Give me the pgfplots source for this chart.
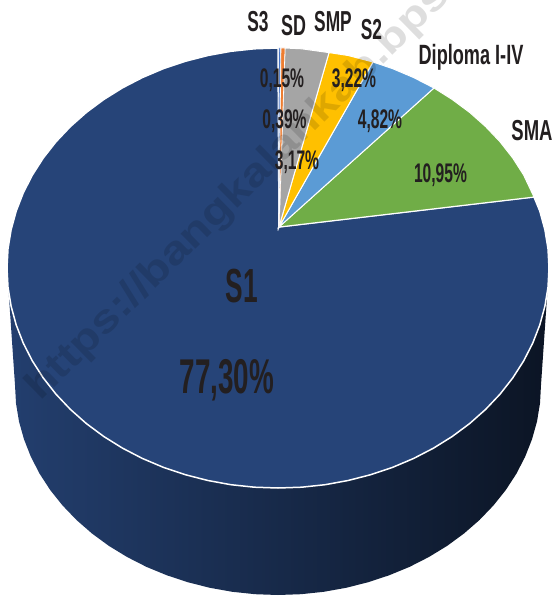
\documentclass[border=0pt]{standalone}
\usepackage{pgfplots}
\pgfplotsset{compat=1.18}
\usepackage{fontspec}
\setmainfont{Liberation Sans}
\definecolor{cSone}{HTML}{264478}
\definecolor{cSthree}{HTML}{4472C4}
\definecolor{cSD}{HTML}{ED7D31}
\definecolor{cSMP}{HTML}{A5A5A5}
\definecolor{cStwo}{HTML}{FFC000}
\definecolor{cDip}{HTML}{5B9BD5}
\definecolor{cSMA}{HTML}{70AD47}
\definecolor{tx}{HTML}{231F20}
\newcommand{\lab}[4]{\node[text=tx,font=\fontsize{#2}{#2}\selectfont\bfseries,inner sep=0pt,anchor=base] at (axis cs:#1) {\scalebox{#3}[1]{#4}};}
\begin{document}
\begin{tikzpicture}
\begin{axis}[scale only axis,width=553bp,height=597bp,xmin=0,xmax=553,ymin=0,ymax=597,y dir=reverse,hide axis,clip=true,no markers]
% side
\addplot[draw=none,left color=cSone!92!black,middle color=cSone!50!black,right color=cSone!30!black] coordinates {
(549,268)(541,385)(540,403.3)(537,421.5)(532,439.3)(525.1,456.8)(516.4,473.7)(505.8,490)(493.4,505.5)(479.5,520)(464,533.5)(447.1,545.9)(428.9,557)(409.5,566.9)(389.1,575.3)(367.9,582.3)(346.1,587.8)(323.7,591.8)(300.9,594.2)(278,595)
(255.1,594.2)(232.3,591.8)(209.9,587.8)(188.1,582.3)(166.9,575.3)(146.5,566.9)(127.1,557)(108.9,545.9)(92,533.5)(76.5,520)(62.6,505.5)(50.2,490)(39.6,473.7)(30.9,456.8)(24,439.3)(19,421.5)(16,403.3)(15,385)(7,268)
} -- cycle;
% S1
\addplot[fill=cSone,draw=white,line width=1.5bp] coordinates {
(279,227)(534,197)(539.8,211.1)(544.9,229.8)(548,248.8)(549,268)(548,287.2)(544.9,306.2)(539.8,324.9)(532.7,343.2)(523.6,361)(512.7,378)(500,394.2)(485.6,409.4)(469.6,423.6)(452.2,436.5)(433.4,448.2)(413.5,458.5)(392.5,467.4)(370.7,474.7)(348.1,480.5)(325.1,484.7)(301.6,487.2)(278,488)
(254.4,487.2)(230.9,484.7)(207.9,480.5)(185.3,474.7)(163.5,467.4)(142.5,458.5)(122.6,448.2)(103.8,436.5)(86.4,423.6)(70.4,409.4)(56,394.2)(43.3,378)(32.4,361)(23.3,343.2)(16.2,324.9)(11.1,306.2)(8,287.2)(7,268)
(8,248.8)(11.1,229.8)(16.2,211.1)(23.3,192.8)(32.4,175)(43.3,158)(56,141.8)(70.4,126.6)(86.4,112.4)(103.8,99.5)(122.6,87.8)(142.5,77.5)(163.5,68.6)(185.3,61.3)(207.9,55.5)(230.9,51.3)(254.4,48.8)(278,48)
} -- cycle;
% SMA
\addplot[fill=cSMA,draw=white,line width=1bp] coordinates {
(279,227)(434,88)(452.2,99.5)(469.6,112.4)(485.6,126.6)(500,141.8)(512.7,158)(523.6,175)(534,197)
} -- cycle;
% Diploma
\addplot[fill=cDip,draw=white,line width=1bp] coordinates {
(279,227)(373,62)(392.5,68.6)(413.5,77.5)(434,88)
} -- cycle;
% S2
\addplot[fill=cStwo,draw=white,line width=1bp] coordinates {
(279,227)(329,52.6)(348.1,55.5)(373,62)
} -- cycle;
% SMP
\addplot[fill=cSMP,draw=white,line width=1bp] coordinates {
(279,227)(285,48)(301.6,48.8)(329,52.6)
} -- cycle;
% SD
\addplot[fill=cSD,draw=white,line width=.6bp] coordinates {
(279,227)(281,48)(285,48)
} -- cycle;
% S3
\addplot[fill=cSthree,draw=white,line width=.4bp] coordinates {
(278.6,227)(278.8,48)(280.4,48)
} -- cycle;
% watermark
\begin{scope}
\clip (axis cs:0,0) rectangle (axis cs:553,597);
\node[rotate=44.5,anchor=base west,inner sep=0pt,text=black,opacity=.13,font=\fontsize{40}{40}\selectfont\bfseries] at (axis cs:40,402) {\scalebox{1.2}[1]{https://bangkalankab.bps.go.id}};
\end{scope}
% labels
\lab{258,32}{29}{.60}{S3}
\lab{293.5,36}{29}{.62}{SD}
\lab{333,32}{29}{.60}{SMP}
\lab{371.5,40}{29}{.60}{S2}
\lab{471,65}{28}{.65}{Diploma I-IV}
\lab{532,140}{29}{.64}{SMA}
\lab{282,88}{27}{.58}{0,15\%}
\lab{284.5,128}{27}{.58}{0,39\%}
\lab{297,169}{27}{.58}{3,17\%}
\lab{354,88}{27}{.58}{3,22\%}
\lab{380,128}{27}{.58}{4,82\%}
\lab{440.5,182}{27}{.58}{10,95\%}
\lab{242,302}{48}{.55}{S1}
\lab{227,393}{49}{.57}{77,30\%}
\end{axis}
\end{tikzpicture}
\end{document}
